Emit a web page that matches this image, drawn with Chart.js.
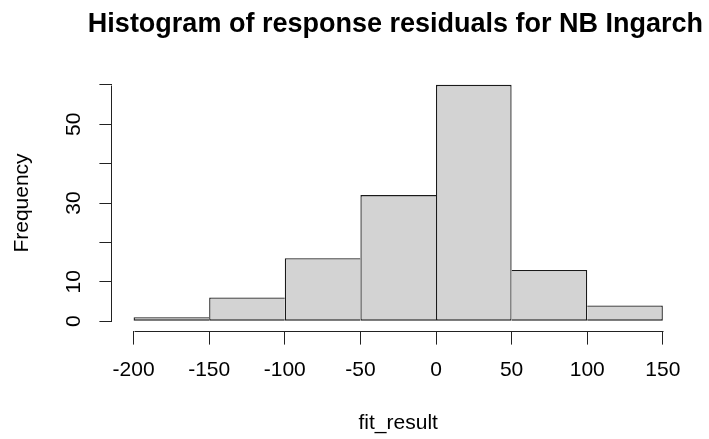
<!DOCTYPE html>
<html>
<head>
<meta charset="utf-8">
<script src="https://cdn.jsdelivr.net/npm/chart.js@4.4.1/dist/chart.umd.min.js"></script>
<style>
  html, body { margin: 0; padding: 0; background: #fff; }
  #hist { display: block; }
</style>
</head>
<body>
<canvas id="hist" width="709" height="439"></canvas>
<script>
// bin edges and counts of the residual histogram
const breaks = [-200, -150, -100, -50, 0, 50, 100, 150]
const counts = [1, 6, 16, 32, 60, 13, 4]

const xTicks = [-200, -150, -100, -50, 0, 50, 100, 150]
const yTicks = [0, 10, 20, 30, 40, 50, 60]
// R drops the labels that would overlap
const yTickLabels = ["0", "10", "", "30", "", "50", ""]

const fontFamily = "'Liberation Sans', Arial, sans-serif"
const ink = "#222"

let puntos = []
for (let i = 0; i < counts.length; i++) {
  puntos.push({ x: (breaks[i] + breaks[i + 1]) / 2, y: counts[i] })
}

// pad the ranges by 4% like R does
const xPad = (breaks[breaks.length - 1] - breaks[0]) * 0.04
const yMax = Math.max(...counts)
const yPad = yMax * 0.04

// one outline per shared edge: the taller bar draws it
function bordes(ctx) {
  let i = ctx.dataIndex
  let n = counts.length
  let w = 1.3
  let izq = (i === 0 || counts[i] >= counts[i - 1]) ? w : 0
  let der = (i === n - 1 || counts[i] > counts[i + 1]) ? w : 0
  return { top: w, bottom: w, left: izq, right: der }
}

// axis lines only span first to last tick
const ejes = {
  id: "ejes",
  afterDraw(chart) {
    let ctx = chart.ctx
    let x = chart.scales.x
    let y = chart.scales.y
    ctx.save()
    ctx.strokeStyle = ink
    ctx.lineWidth = 1
    ctx.beginPath()
    let yy = Math.round(x.top) + 0.5
    ctx.moveTo(Math.round(x.getPixelForValue(xTicks[0])) + 0.5, yy)
    ctx.lineTo(Math.round(x.getPixelForValue(xTicks[xTicks.length - 1])) + 0.5, yy)
    let xx = Math.round(y.right) - 0.5
    ctx.moveTo(xx, Math.round(y.getPixelForValue(yTicks[0])) + 0.5)
    ctx.lineTo(xx, Math.round(y.getPixelForValue(yTicks[yTicks.length - 1])) + 0.5)
    ctx.stroke()
    ctx.restore()
  }
}

new Chart(document.getElementById("hist"), {
  type: "bar",
  data: {
    datasets: [{
      label: "fit_result",
      data: puntos,
      backgroundColor: "#d3d3d3",
      borderColor: "#1a1a1a",
      borderWidth: bordes,
      borderSkipped: false,
      barPercentage: 1,
      categoryPercentage: 1,
      inflateAmount: 0
    }]
  },
  options: {
    responsive: false,
    animation: false,
    // the title is right-aligned to this edge; the plot keeps a wider right margin
    layout: { padding: { left: 0, right: 6, top: 0, bottom: 0 } },
    plugins: {
      legend: { display: false },
      tooltip: { enabled: false },
      title: {
        display: true,
        text: "Histogram of response residuals for NB Ingarch",
        align: "end",
        color: "#000",
        font: { family: fontFamily, size: 27, weight: "bold" },
        padding: { top: 8, bottom: 35 }
      }
    },
    scales: {
      x: {
        type: "linear",
        offset: false,
        min: breaks[0] - xPad,
        max: breaks[breaks.length - 1] + xPad,
        afterBuildTicks: s => { s.ticks = xTicks.map(v => ({ value: v })) },
        afterFit: s => { s.paddingRight = 25 },
        border: { display: false },
        grid: { offset: false, drawOnChartArea: false, drawTicks: true, tickLength: 14, color: ink, lineWidth: 1 },
        ticks: {
          autoSkip: false,
          maxRotation: 0,
          padding: 13,
          color: "#000",
          font: { family: fontFamily, size: 21 },
          callback: v => String(v)
        },
        title: {
          display: true,
          text: "fit_result",
          color: "#000",
          font: { family: fontFamily, size: 21 },
          padding: { top: 15, bottom: 3 }
        }
      },
      y: {
        min: -yPad,
        max: yMax + yPad,
        afterBuildTicks: s => { s.ticks = yTicks.map(v => ({ value: v })) },
        border: { display: false },
        grid: { drawOnChartArea: false, drawTicks: true, tickLength: 13, color: ink, lineWidth: 1 },
        ticks: {
          autoSkip: false,
          minRotation: 90,
          maxRotation: 90,
          crossAlign: "center",
          padding: 14,
          color: "#000",
          font: { family: fontFamily, size: 21 },
          callback: (v, i) => yTickLabels[i]
        },
        title: {
          display: true,
          text: "Frequency",
          color: "#000",
          font: { family: fontFamily, size: 21 },
          padding: { top: 10, bottom: 11 }
        }
      }
    }
  },
  plugins: [ejes]
})
</script>
</body>
</html>
